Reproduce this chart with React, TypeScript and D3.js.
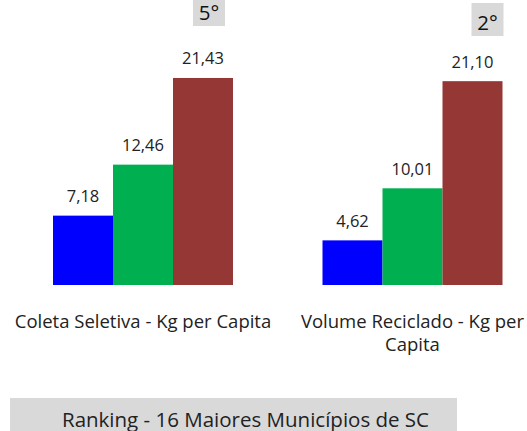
import React from "react";
import * as d3 from "d3";

const categories = ["Coleta Seletiva - Kg per Capita", "Volume Reciclado - Kg per Capita"];
const categoryLines = [["Coleta Seletiva - Kg per Capita"], ["Volume Reciclado - Kg per", "Capita"]];
const series = ["s1", "s2", "s3"];
const seriesColors = ["#0000FF", "#00B050", "#953735"];
const values = [
  [7.18, 12.46, 21.43],
  [4.62, 10.01, 21.1],
];
const ranks = ["5°", "2°"];
const footer = "Ranking - 16 Maiores Municípios de SC";

const W = 527;
const H = 431;
const font = "'Open Sans', 'Noto Sans', sans-serif";

const fmt = (v: number) => v.toFixed(2).replace(".", ",");

export default function App() {
  const x0 = d3.scalePoint<string>().domain(categories).range([143, 412.5]);
  const x1 = d3.scaleBand<string>().domain(series).range([-90, 90]);
  const y = d3.scaleLinear().domain([0, 25]).range([285, 43.5]);

  // rank badges, placed relative to group center
  const badgeBox = [
    { dx: 50, top: -7, w: 32, h: 33 },
    { dx: 59, top: 3, w: 32, h: 33 },
  ];

  return (
    <svg
      width={W}
      height={H}
      style={{ position: "absolute", left: 0, top: 0, background: "#fff" }}
      fontFamily={font}
    >
      {categories.map((c, ci) => {
        const cx = x0(c) ?? 0;
        const b = badgeBox[ci];
        return (
          <g key={c}>
            {series.map((s, si) => {
              const v = values[ci][si];
              const bx = cx + (x1(s) ?? 0);
              return (
                <g key={s}>
                  <rect
                    x={bx}
                    y={y(v)}
                    width={x1.bandwidth()}
                    height={y(0) - y(v)}
                    fill={seriesColors[si]}
                  />
                  <text
                    x={bx + x1.bandwidth() / 2}
                    y={y(v) - 13.5}
                    textAnchor="middle"
                    fontSize={16.5}
                    fill="#222"
                  >
                    {fmt(v)}
                  </text>
                </g>
              );
            })}
            {categoryLines[ci].map((line, li) => (
              <text
                key={li}
                x={cx}
                y={328 + li * 23}
                textAnchor="middle"
                fontSize={18.5}
                fill="#222"
              >
                {line}
              </text>
            ))}
            <rect x={cx + b.dx} y={b.top} width={b.w} height={b.h} fill="#D9D9D9" />
            <text
              x={cx + b.dx + b.w / 2}
              y={b.top + 27}
              textAnchor="middle"
              fontSize={20.5}
              fill="#111"
            >
              {ranks[ci]}
            </text>
          </g>
        );
      })}
      <rect x={10} y={398} width={447} height={40} fill="#D9D9D9" />
      <text x={245.5} y={427} textAnchor="middle" fontSize={20.5} fill="#222">
        {footer}
      </text>
    </svg>
  );
}
